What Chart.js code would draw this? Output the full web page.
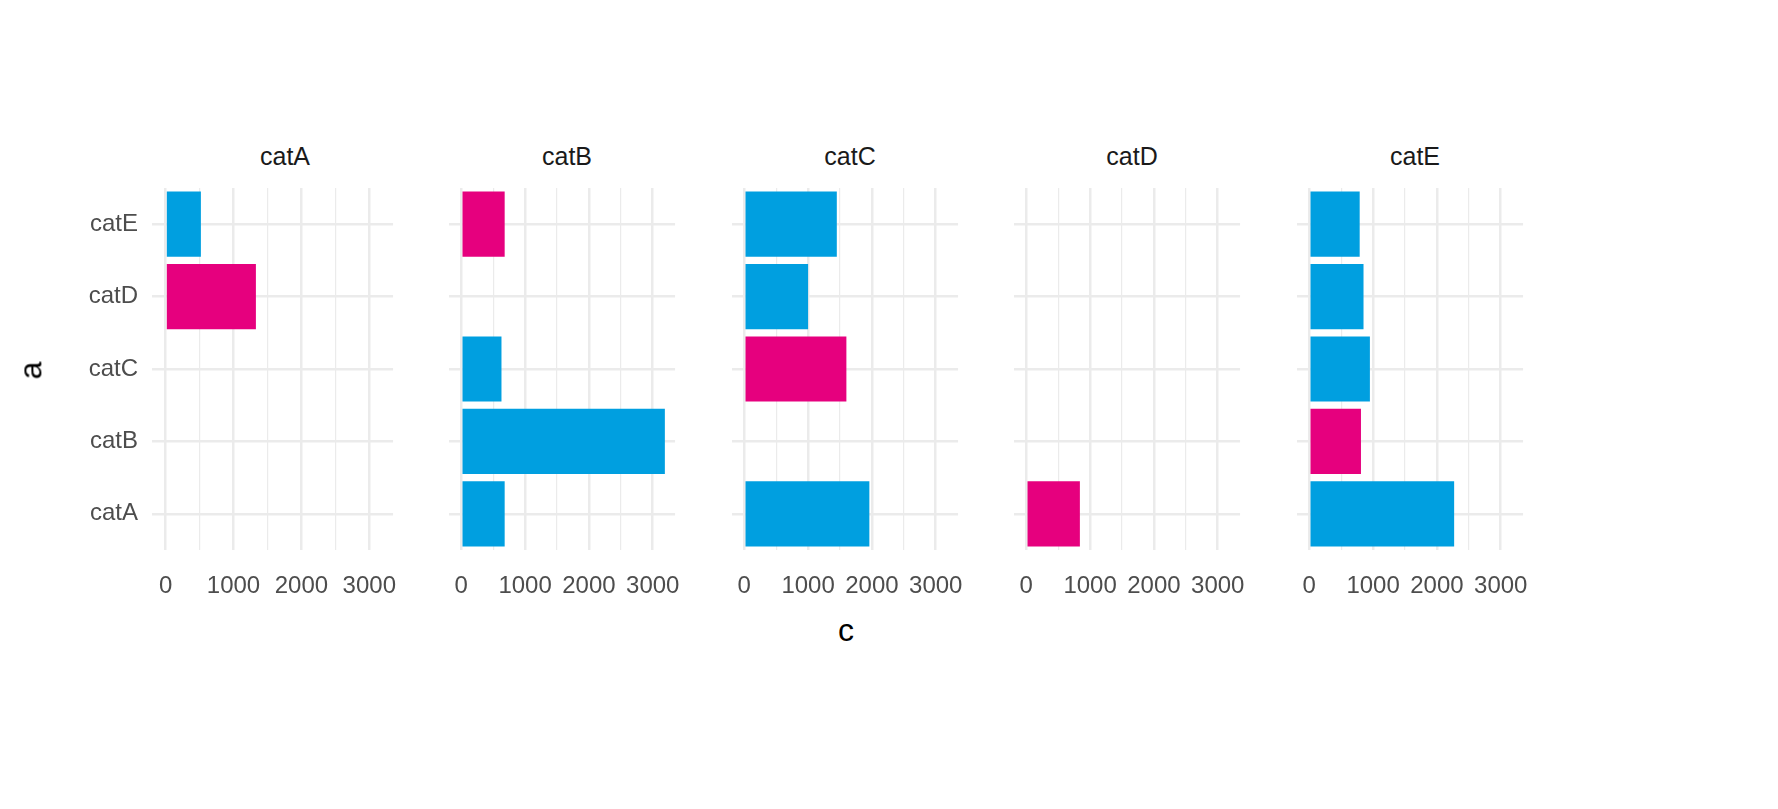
<!DOCTYPE html>
<html><head><meta charset="utf-8">
<script src="https://cdn.jsdelivr.net/npm/chart.js@4"></script>
<style>
body{margin:0;width:1778px;height:809px;background:#fff;position:relative;font-family:"Liberation Sans",Arial,sans-serif;overflow:hidden}
canvas{position:absolute}
.strip{position:absolute;top:142px;font-size:25px;color:#1a1a1a;text-align:center;width:266px}
</style></head><body>
<div id="root"></div>
<div style="position:absolute;left:838px;top:612px;font-size:32px;color:#000">c</div>
<div style="position:absolute;left:22px;top:352px;font-size:32px;color:#000;transform:rotate(-90deg)">a</div>
<script>
const panels = ['catA','catB','catC','catD','catE'];
const categories = ['catE','catD','catC','catB','catA'];
// values per panel, ordered as categories (catE..catA)
const valsA = [520, 1330, null, null, null];
const valsB = [680, null, 630, 3190, 680];
const valsC = [1450, 1000, 1600, null, 1960];
const valsD = [null, null, null, null, 840];
const valsE = [790, 850, 950, 810, 2270];
const highlight = ['catD','catE','catC','catA','catB']; // pink bar per panel
const xTicks = [0,500,1000,1500,2000,2500,3000];
const allVals = [valsA,valsB,valsC,valsD,valsE];
const BLUE='#009FE0', PINK='#E6007E';
const plotLefts=[152,434,717,999,1282];
const root=document.getElementById('root');
const yLabelPlugin={id:'ylab',afterDraw(chart){
  if(!chart.options.plugins.ylab||!chart.options.plugins.ylab.show)return;
  const ctx=chart.ctx,ys=chart.scales.y;
  ctx.save();ctx.fillStyle='#4d4d4d';ctx.font='24px "Liberation Sans",Arial';
  ctx.textAlign='right';ctx.textBaseline='middle';
  categories.forEach((k,j)=>ctx.fillText(k,chart.chartArea.left-14,ys.getPixelForValue(j)));
  ctx.restore();}};
panels.forEach((p,i)=>{
  const first=i===0;
  const left=first?0:plotLefts[i];
  const w=first?418:266;
  const c=document.createElement('canvas');
  c.style.left=left+'px';c.style.top='188px';c.style.width=w+'px';c.style.height='422px';
  c.width=w;c.height=422;
  root.appendChild(c);
  const s=document.createElement('div');s.className='strip';s.style.left=plotLefts[i]+'px';s.textContent=p;root.appendChild(s);
  new Chart(c,{type:'bar',plugins:[yLabelPlugin],data:{labels:categories,datasets:[{data:allVals[i],
    backgroundColor:categories.map(k=>k===highlight[i]?PINK:BLUE),barPercentage:0.9,categoryPercentage:1}]},
  options:{indexAxis:'y',responsive:false,animation:false,devicePixelRatio:1,
    plugins:{legend:{display:false},tooltip:{enabled:false},ylab:{show:first}},
    layout:{padding:0},
    scales:{
      x:{type:'linear',min:-200,max:3350,
        afterBuildTicks:a=>{a.ticks=xTicks.map(v=>({value:v}));},
        afterFit:a=>{a.height=60;},
        border:{display:false},
        grid:{color:'#ebebeb',lineWidth:ctx=>(ctx.tick&&ctx.tick.value%1000===0)?2.5:1.2,drawTicks:false},
        ticks:{padding:22,autoSkip:false,maxRotation:0,color:'#4d4d4d',font:{size:24,family:'"Liberation Sans",Arial'},
          callback:v=>v%1000===0?String(v):''}},
      y:{display:true,offset:true,
        afterFit:a=>{a.width=first?152:0;},
        border:{display:false},
        grid:{color:'#ebebeb',lineWidth:2.5,drawTicks:false,offset:false},
        ticks:{display:false}}
    }}});
});
</script></body></html>
